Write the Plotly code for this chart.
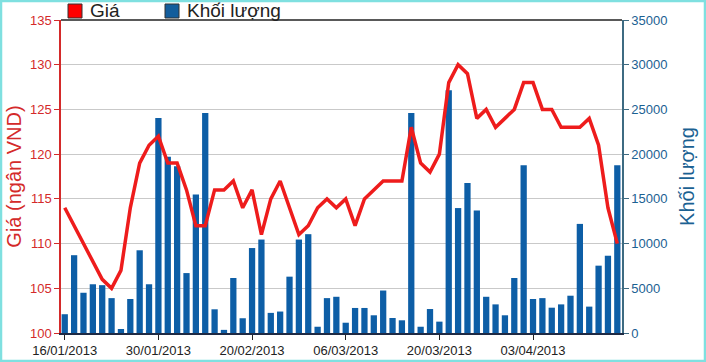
import plotly.graph_objects as go

dates = [
    "16/01/2013", "17/01/2013", "18/01/2013", "21/01/2013", "22/01/2013", "23/01/2013", "24/01/2013", "25/01/2013", "28/01/2013", "29/01/2013",
    "30/01/2013", "31/01/2013", "01/02/2013", "04/02/2013", "05/02/2013", "06/02/2013", "07/02/2013", "08/02/2013", "18/02/2013", "19/02/2013",
    "20/02/2013", "21/02/2013", "22/02/2013", "25/02/2013", "26/02/2013", "27/02/2013", "28/02/2013", "01/03/2013", "04/03/2013", "05/03/2013",
    "06/03/2013", "07/03/2013", "08/03/2013", "11/03/2013", "12/03/2013", "13/03/2013", "14/03/2013", "15/03/2013", "18/03/2013", "19/03/2013",
    "20/03/2013", "21/03/2013", "22/03/2013", "25/03/2013", "26/03/2013", "27/03/2013", "28/03/2013", "29/03/2013", "01/04/2013", "02/04/2013",
    "03/04/2013", "04/04/2013", "05/04/2013", "08/04/2013", "09/04/2013", "10/04/2013", "11/04/2013", "12/04/2013", "15/04/2013", "16/04/2013",
]

price = [
    114, 112, 110, 108, 106, 105, 107, 114, 119, 121,
    122, 119, 119, 116, 112, 112, 116, 116, 117, 114,
    116, 111, 115, 117, 114, 111, 112, 114, 115, 114,
    115, 112, 115, 116, 117, 117, 117, 123, 119, 118,
    120, 128, 130, 129, 124, 125, 123, 124, 125, 128,
    128, 125, 125, 123, 123, 123, 124, 121, 114, 110,
]

volume = [
    2100, 8700, 4500, 5450, 5350, 3900, 450, 3800, 9250, 5450,
    24050, 19700, 18650, 6700, 15500, 24600, 2650, 350, 6150, 1650,
    9500, 10450, 2250, 2400, 6300, 10450, 11050, 700, 3900, 4050,
    1150, 2800, 2800, 1980, 4750, 1680, 1420, 24600, 700, 2680,
    1270, 27150, 13970, 16770, 13700, 4050, 3200, 1980, 6150, 18750,
    3800, 3900, 2830, 3200, 4170, 12200, 2950, 7530, 8640, 18750,
]

tick_dates = dates[0::10]
series_names = ["Giá", "Khối lượng"]

price_color = "#ee1c1c"
vol_color = "#0d5ea6"
axis_red = "#d42a2a"
axis_blue = "#1b6192"

W, H = 706, 362
ML, MR, MT, MB = 61, 84, 20, 29
PW, PH = W - ML - MR, H - MT - MB


def px(x):
    return (x - ML) / PW


def py(y):
    return (H - MB - y) / PH


fig = go.Figure()

fig.add_trace(go.Bar(
    x=dates, y=volume, name=series_names[1], yaxis="y",
    marker=dict(color=vol_color, line=dict(width=0)),
    showlegend=False,
))
fig.add_trace(go.Scatter(
    x=dates, y=price, name=series_names[0], yaxis="y2", mode="lines",
    line=dict(color=price_color, width=3.5),
    showlegend=False,
))

# legend drawn as swatches + labels in the top margin
legend_items = [(series_names[0], "#ff0000", 68), (series_names[1], "#135d9c", 165)]
shapes = [
    dict(type="line", xref="paper", yref="paper", x0=0, x1=1, y0=1, y1=1,
         line=dict(color="#222222", width=1.5)),
    dict(type="rect", xref="paper", yref="paper", x0=px(1), x1=px(W - 1),
         y0=py(H - 1), y1=py(1), line=dict(color="#7fe0e0", width=2.5), layer="below"),
]
annotations = []
for name, col, x0 in legend_items:
    shapes.append(dict(type="rect", xref="paper", yref="paper",
                       x0=px(x0), x1=px(x0 + 14), y0=py(18), y1=py(4),
                       fillcolor=col, line=dict(color="#333333", width=1)))
    annotations.append(dict(text=name, xref="paper", yref="paper", x=px(x0 + 20), y=py(11),
                            xanchor="left", yanchor="middle", showarrow=False,
                            font=dict(size=19, color="#222222")))

fig.update_layout(
    width=W, height=H,
    margin=dict(l=ML, r=MR, t=MT, b=MB, autoexpand=False),
    paper_bgcolor="white", plot_bgcolor="white",
    font=dict(family="Liberation Sans, Arial, sans-serif", size=13, color="#222222"),
    bargap=0.33,
    showlegend=False,
    xaxis=dict(
        type="category", tickmode="array", tickvals=tick_dates, ticktext=tick_dates,
        range=[-0.4, 59.5], showgrid=False,
        showline=True, linecolor="#1e2a44", linewidth=1.5,
        ticks="outside", ticklen=5, tickcolor="#222222",
        tickfont=dict(size=13, color="#222222"),
    ),
    yaxis=dict(
        side="right", range=[0, 35000], tickvals=[0, 5000, 10000, 15000, 20000, 25000, 30000, 35000],
        tickformat="d",
        showgrid=True, gridcolor="#c9c9c9", gridwidth=1,
        showline=True, linecolor="#3d6b82", linewidth=1.5,
        ticks="outside", ticklen=5, tickcolor="#3d6b82",
        tickfont=dict(size=13, color=axis_blue),
        title=dict(text=series_names[1], font=dict(size=20, color=axis_blue), standoff=13),
        zeroline=False,
    ),
    yaxis2=dict(
        side="left", overlaying="y", range=[100, 135], tickvals=[100, 105, 110, 115, 120, 125, 130, 135],
        showgrid=False,
        showline=True, linecolor=axis_red, linewidth=1.5,
        ticks="outside", ticklen=5, tickcolor=axis_red,
        tickfont=dict(size=13, color=axis_red),
        title=dict(text="Giá (ngân VND)", font=dict(size=20, color=axis_red), standoff=3),
        zeroline=False,
    ),
    shapes=shapes,
    annotations=annotations,
)

fig.write_html("out.html", config={"displayModeBar": False},
               post_script="document.body.style.margin='0px';")
